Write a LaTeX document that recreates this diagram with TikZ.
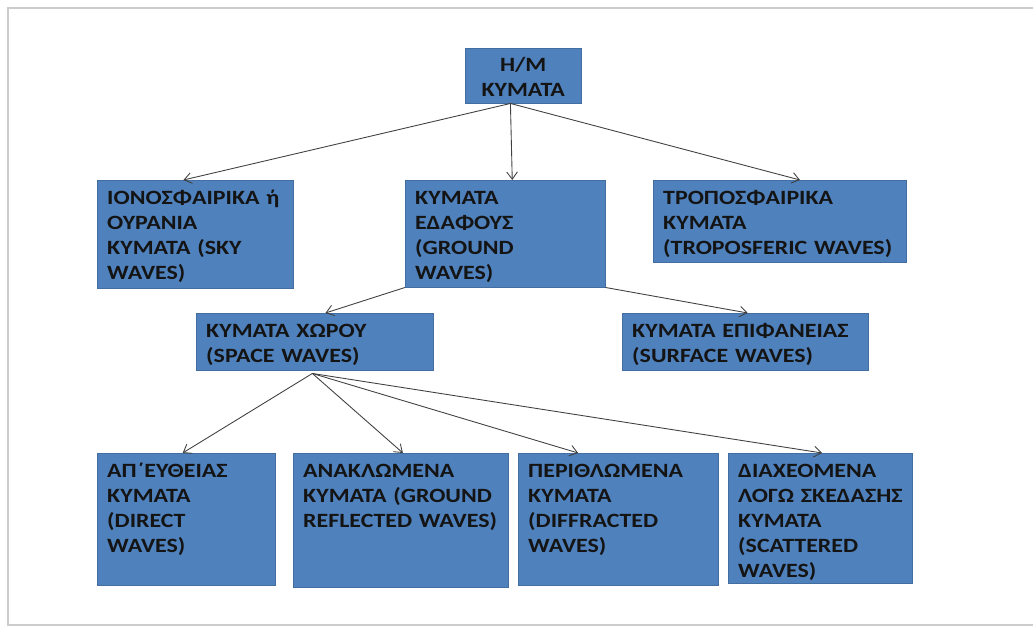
\documentclass[tikz,border=0pt]{standalone}
\usepackage{fontspec}
\setmainfont{Carlito}[FakeStretch=1.18]
\usepackage{tikz}
\usetikzlibrary{positioning}
\usetikzlibrary{arrows.meta}
\usetikzlibrary{calc}
\usepackage{xcolor}
\definecolor{boxblue}{RGB}{79,129,189}
\definecolor{linegray}{RGB}{64,64,64}

\begin{document}
\begin{tikzpicture}[
  x=0.03cm, y=-0.03cm,
  font=\fontsize{17.3}{21.3}\selectfont\bfseries,
  box/.style={fill=boxblue, draw=boxblue!85!black, line width=0.4pt, anchor=north west,
    align=left, inner xsep=0.3cm, inner ysep=0pt, text height=0.72cm, text=black!92},
  arrow/.style={-{Straight Barb[length=2.2mm, width=3.2mm]}, draw=linegray, line width=0.75pt}
]
\useasboundingbox (0,0) rectangle (1033,629);

% Outer frame
\draw[black!20, line width=1.4pt] (1033,8) -- (8,8) -- (8,625) -- (1033,625);

% Top
\node[box, align=center, text width=2.88cm, text height=0.70cm, text depth=0.95cm] (hm) at (465,48) {Η/Μ\\ΚΥΜΑΤΑ};

% Second row
\node[box, text width=5.28cm, text depth=2.52cm] (sky) at (97,180) {ΙΟΝΟΣΦΑΙΡΙΚΑ~ή\\ΟΥΡΑΝΙΑ\\ΚΥΜΑΤΑ~(SKY\\WAVES)};
\node[box, text width=5.40cm, text depth=2.49cm] (ground) at (405,180) {ΚΥΜΑΤΑ\\ΕΔΑΦΟΥΣ\\(GROUND\\WAVES)};
\node[box, text width=6.99cm, text depth=1.74cm] (tropo) at (653,180) {ΤΡΟΠΟΣΦΑΙΡΙΚΑ\\ΚΥΜΑΤΑ\\(TROPOSFERIC~WAVES)};

% Third row
\node[box, text width=6.51cm, text depth=0.99cm] (space) at (196,313) {ΚΥΜΑΤΑ~ΧΩΡΟΥ\\(SPACE~WAVES)};
\node[box, text width=6.78cm, text depth=0.99cm] (surface) at (622,313) {ΚΥΜΑΤΑ~ΕΠΙΦΑΝΕΙΑΣ\\(SURFACE~WAVES)};

% Bottom row
\node[box, text width=4.74cm, text depth=3.24cm] (direct) at (97,453) {ΑΠ΄ΕΥΘΕΙΑΣ\\ΚΥΜΑΤΑ\\(DIRECT\\WAVES)};
\node[box, text width=5.85cm, text depth=3.30cm] (reflected) at (293,453) {ΑΝΑΚΛΩΜΕΝΑ\\ΚΥΜΑΤΑ~(GROUND\\REFLECTED~WAVES)};
\node[box, text width=5.40cm, text depth=3.24cm] (diffracted) at (518,453) {ΠΕΡΙΘΛΩΜΕΝΑ\\ΚΥΜΑΤΑ\\(DIFFRACTED\\WAVES)};
\node[box, text width=4.92cm, text depth=3.18cm] (scattered) at (728,453) {ΔΙΑΧΕΟΜΕΝΑ\\ΛΟΓΩ~ΣΚΕΔΑΣΗΣ\\ΚΥΜΑΤΑ\\(SCATTERED\\WAVES)};

% Arrows from the top box
\coordinate (hmout) at ($(hm.south west)!0.39!(hm.south east)$);
\draw[arrow] (hmout) -- ($(sky.north west)!0.44!(sky.north east)$);
\draw[arrow] (hmout) -- ($(ground.north west)!0.535!(ground.north east)$);
\draw[arrow] (hmout) -- ($(tropo.north west)!0.58!(tropo.north east)$);

% Ground waves split
\draw[arrow] (ground.south west) -- ($(space.north west)!0.545!(space.north east)$);
\draw[arrow] (ground.south east) -- ($(surface.north west)!0.51!(surface.north east)$);

% Space waves split
\coordinate (spaceout) at ($(space.south west)!0.49!(space.south east)+(0,3)$);
\draw[arrow] (spaceout) -- ($(direct.north west)!0.48!(direct.north east)$);
\draw[arrow] (spaceout) -- ($(reflected.north west)!0.51!(reflected.north east)$);
\draw[arrow] (spaceout) -- ($(diffracted.north west)!0.30!(diffracted.north east)$);
\draw[arrow] (spaceout) -- ($(scattered.north west)!0.51!(scattered.north east)$);

\end{tikzpicture}
\end{document}
